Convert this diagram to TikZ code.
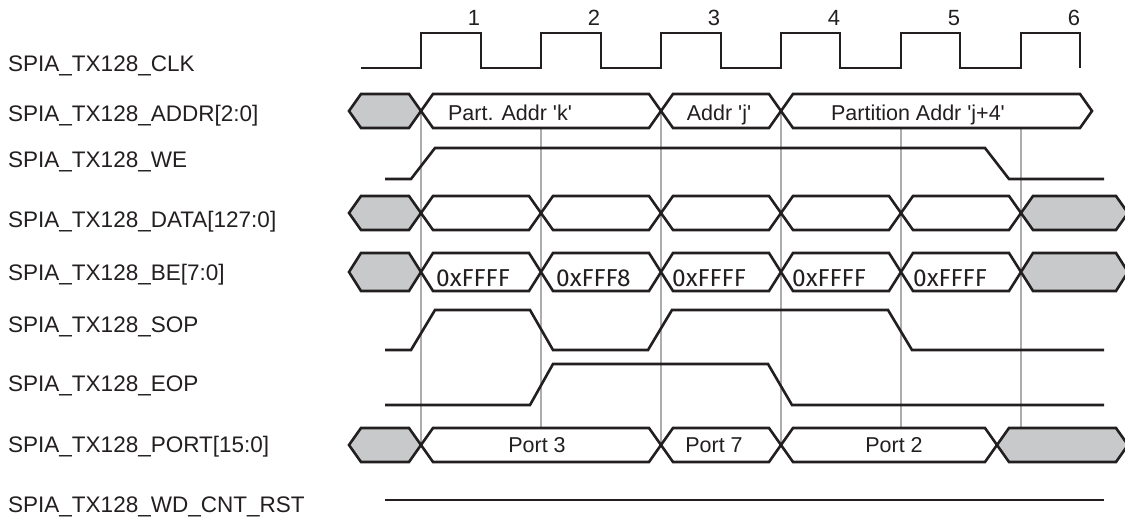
\documentclass[tikz,border=0pt]{standalone}
\usepackage{fontspec}
\setmainfont{Liberation Sans}
\newfontfamily\befont{Fira Sans}
\definecolor{sigc}{HTML}{231F20}
\definecolor{busgray}{HTML}{C8C9CB}
\definecolor{guidec}{HTML}{ADADAD}
\newcommand\bushex[5]{%
  \filldraw[sig, fill=#5] (#1,#3) -- (#1+12,#3-#4) -- (#2-12,#3-#4) -- (#2,#3) -- (#2-12,#3+#4) -- (#1+12,#3+#4) -- cycle;}
\begin{document}
\begin{tikzpicture}[x=1pt,y=-1pt,
  sig/.style={line width=2.6pt, draw=sigc, line join=miter},
  guide/.style={line width=2.3pt, draw=guidec},
  lbl/.style={anchor=base west, inner sep=0pt, font=\fontsize{22.5}{26}\selectfont, text=sigc},
  num/.style={inner sep=0pt, font=\fontsize{22}{26}\selectfont, text=sigc},
  bustxt/.style={anchor=base, inner sep=0pt, font=\fontsize{21.5}{25}\selectfont, text=sigc},
  betxt/.style={anchor=base west, inner sep=0pt, font=\befont\fontsize{24.5}{28}\selectfont, text=sigc}]
\useasboundingbox (0,0) rectangle (1125,518);
\clip (0,0) rectangle (1125,518);
% labels
\node[lbl] (lclk)  at (8,72)  {SPIA\_TX128\_CLK};
\node[lbl] (laddr) at (8,122) {SPIA\_TX128\_ADDR[2:0]};
\node[lbl] (lwe)   at (8,168) {SPIA\_TX128\_WE};
\node[lbl] (ldata) at (8,228) {SPIA\_TX128\_DATA[127:0]};
\node[lbl] (lbe)   at (8,281) {SPIA\_TX128\_BE[7:0]};
\node[lbl] (lsop)  at (8,333) {SPIA\_TX128\_SOP};
\node[lbl] (leop)  at (8,392) {SPIA\_TX128\_EOP};
\node[lbl] (lport) at (8,453) {SPIA\_TX128\_PORT[15:0]};
\node[lbl] (lwd)   at (8,512) {SPIA\_TX128\_WD\_CNT\_RST};
% clock numbers
\node[num] (n1) at (474,18) {1};
\node[num] (n2) at (594,18) {2};
\node[num] (n3) at (714,18) {3};
\node[num] (n4) at (834,18) {4};
\node[num] (n5) at (954,18) {5};
\node[num] (n6) at (1074,18) {6};
% guide lines
\foreach \gx in {421,541,661,781,901,1021} \draw[guide] (\gx,111) -- (\gx,445);
% clock
\draw[sig] (361,68) -- (421,68) -- (421,33) -- (481,33) -- (481,68) -- (541,68) -- (541,33) -- (601,33) -- (601,68) -- (661,68) -- (661,33) -- (721,33) -- (721,68) -- (781,68) -- (781,33) -- (840,33) -- (840,68) -- (901,68) -- (901,33) -- (960,33) -- (960,68) -- (1021,68) -- (1021,33) -- (1080,33) -- (1080,68);
% ADDR
\bushex{349}{421}{111}{17}{busgray}
\bushex{421}{661}{111}{17}{white}
\bushex{661}{781}{111}{17}{white}
\bushex{781}{1092}{111}{17}{white}
\node[bustxt] (ak) at (510,121) {Part. Addr \textquotesingle k\textquotesingle};
\node[bustxt] (aj) at (719,121) {Addr \textquotesingle j\textquotesingle};
\node[bustxt] (aj4) at (918,121) {Partition Addr \textquotesingle j+4\textquotesingle};
% WE
\draw[sig] (385,179) -- (411,179) -- (435,148) -- (985,148) -- (1009,179) -- (1104,179);
% DATA
\bushex{349}{421}{213}{17}{busgray}
\foreach \a/\b in {421/541,541/661,661/781,781/901,901/1021} {\bushex{\a}{\b}{213}{17}{white}}
\bushex{1021}{1128}{213}{17}{busgray}
% BE
\bushex{349}{421}{272}{19}{busgray}
\foreach \a/\b in {421/541,541/661,661/781,781/901,901/1021} {\bushex{\a}{\b}{272}{19}{white}}
\bushex{1021}{1128}{272}{19}{busgray}
\node[betxt] (be1) at (436,287) {0xFFFF};
\node[betxt] (be2) at (556,287) {0xFFF8};
\node[betxt] (be3) at (672,287) {0xFFFF};
\node[betxt] (be4) at (792,287) {0xFFFF};
\node[betxt] (be5) at (913,287) {0xFFFF};
% SOP
\draw[sig] (385,350) -- (411,350) -- (435,310) -- (530,310) -- (553,350) -- (648,350) -- (672,310) -- (888,310) -- (912,350) -- (1104,350);
% EOP
\draw[sig] (385,405) -- (530,405) -- (553,364) -- (768,364) -- (792,405) -- (1104,405);
% PORT
\bushex{349}{421}{445}{17}{busgray}
\bushex{421}{661}{445}{17}{white}
\bushex{661}{781}{445}{17}{white}
\bushex{781}{997}{445}{17}{white}
\bushex{997}{1128}{445}{17}{busgray}
\node[bustxt] (p3) at (537,453) {Port 3};
\node[bustxt] (p7) at (714,453) {Port 7};
\node[bustxt] (p2) at (894,453) {Port 2};
% WD_CNT_RST
\draw[sig] (385,500) -- (1104,500);
\end{tikzpicture}
\end{document}
